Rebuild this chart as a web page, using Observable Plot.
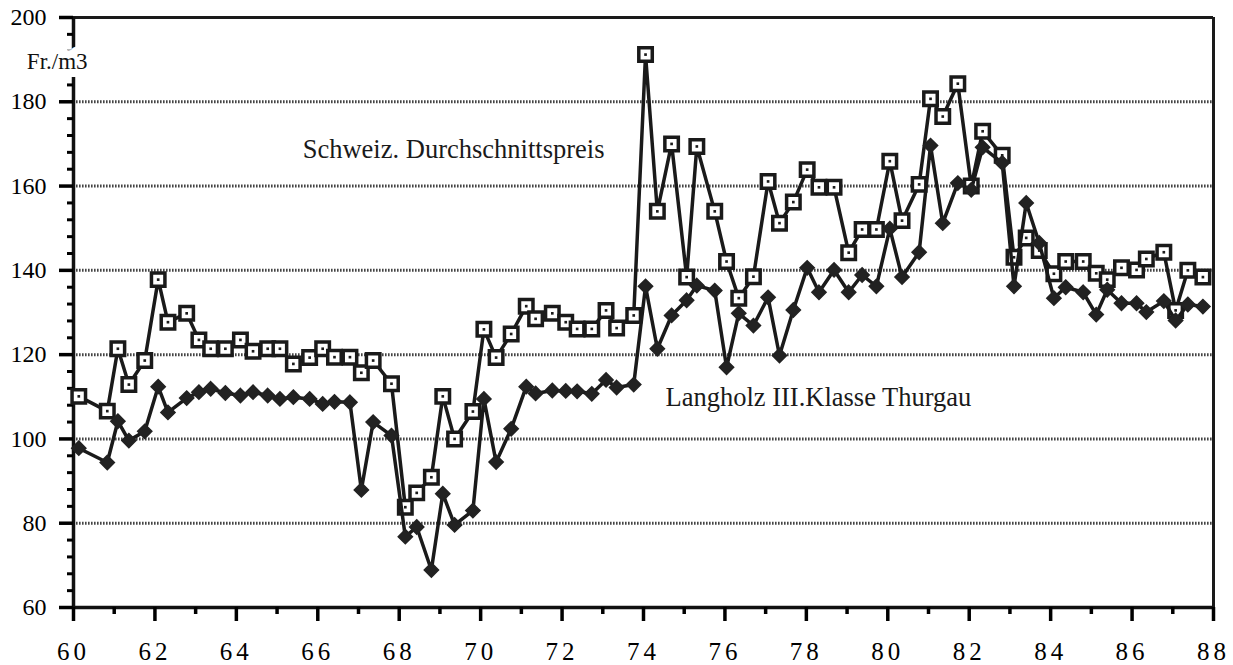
<!DOCTYPE html>
<html>
<head>
<meta charset="utf-8">
<script src="https://cdn.jsdelivr.net/npm/d3@7"></script>
<script src="https://cdn.jsdelivr.net/npm/@observablehq/plot@0.6"></script>
<style>
  html, body { margin: 0; padding: 0; background: white; }
  #chart { width: 1233px; height: 665px; }
</style>
</head>
<body>
<div id="chart"></div>
<script>
// Decimal year (19xx) of each observation
const periods = [
  60.13, 60.83, 61.09, 61.36, 61.75, 62.08, 62.32, 62.78, 63.08, 63.37,
  63.73, 64.10, 64.41, 64.77, 65.07, 65.40, 65.80, 66.12, 66.41, 66.79,
  67.07, 67.36, 67.81, 68.15, 68.43, 68.79, 69.07, 69.36, 69.81, 70.08,
  70.38, 70.75, 71.12, 71.35, 71.76, 72.09, 72.37, 72.73, 73.08, 73.34,
  73.76, 74.05, 74.34, 74.69, 75.06, 75.31, 75.75, 76.04, 76.34, 76.70,
  77.06, 77.34, 77.68, 78.02, 78.31, 78.68, 79.04, 79.37, 79.72, 80.05,
  80.35, 80.77, 81.05, 81.35, 81.72, 82.05, 82.33, 82.81, 83.10, 83.40,
  83.72, 84.08, 84.37, 84.80, 85.12, 85.39, 85.74, 86.11, 86.35, 86.78,
  87.07, 87.37, 87.74
];
// Schweiz. Durchschnittspreis (Fr./m3)
const schweiz = [
  110.1, 106.6, 121.4, 112.9, 118.6, 137.8, 127.7, 129.8, 123.5, 121.4,
  121.4, 123.5, 120.8, 121.4, 121.4, 117.8, 119.3, 121.4, 119.4, 119.4,
  115.7, 118.6, 113.1, 83.8, 87.2, 90.9, 110.1, 100.0, 106.5, 126.0,
  119.3, 124.9, 131.5, 128.5, 129.8, 127.7, 126.1, 126.1, 130.5, 126.3,
  129.3, 191.2, 154.0, 170.0, 138.4, 169.4, 154.0, 142.1, 133.4, 138.5,
  161.1, 151.2, 156.2, 163.9, 159.7, 159.7, 144.2, 149.7, 149.7, 165.9,
  151.8, 160.4, 180.7, 176.5, 184.3, 160.0, 173.0, 167.3, 143.1, 147.7,
  144.7, 139.2, 142.1, 142.1, 139.3, 137.8, 140.6, 140.1, 142.7, 144.3,
  130.5, 140.0, 138.4
];
// Langholz III.Klasse Thurgau (Fr./m3)
const thurgau = [
  97.8, 94.4, 104.2, 99.6, 101.8, 112.4, 106.3, 109.7, 111.1, 111.9,
  110.9, 110.3, 111.1, 110.3, 109.5, 109.9, 109.5, 108.3, 108.8, 108.7,
  87.9, 104.0, 100.8, 76.8, 79.1, 68.9, 87.0, 79.6, 83.0, 109.5,
  94.5, 102.4, 112.4, 110.8, 111.5, 111.4, 111.3, 110.7, 114.0, 112.2,
  112.9, 136.2, 121.4, 129.3, 132.9, 136.4, 135.2, 117.0, 129.8, 126.9,
  133.6, 119.8, 130.6, 140.6, 134.8, 140.1, 134.8, 138.9, 136.2, 149.9,
  138.4, 144.3, 169.6, 151.2, 160.7, 159.1, 169.2, 165.5, 136.2, 156.0,
  146.5, 133.4, 136.0, 134.8, 129.5, 135.4, 132.2, 132.2, 130.1, 132.7,
  128.1, 131.9, 131.4
];

const xMajorTicks = [60, 62, 64, 66, 68, 70, 72, 74, 76, 78, 80, 82, 84, 86, 88];
const xMinorTicks = [61, 63, 65, 67, 69, 71, 73, 75, 77, 79, 81, 83, 85, 87];
const yMajorTicks = [60, 80, 100, 120, 140, 160, 180, 200];
const yMinorTicks = [64, 68, 72, 76, 84, 88, 92, 96, 104, 108, 112, 116, 124, 128, 132, 136,
                     144, 148, 152, 156, 164, 168, 172, 176, 184, 188, 192, 196];
const gridValues = [80, 100, 120, 140, 160, 180];

const labels = [
  {text: "Schweiz. Durchschnittspreis", x: 65.63, y: 168.6},
  {text: "Langholz III.Klasse Thurgau", x: 74.54, y: 109.9}
];
const unitLabel = [{text: "Fr./m3", x: 59.6, y: 189.5}];

const sData = periods.map((p, i) => ({x: p, y: schweiz[i]}));
const tData = periods.map((p, i) => ({x: p, y: thurgau[i]}));

const font = "Liberation Serif";

const chart = Plot.plot({
  width: 1233,
  height: 665,
  marginLeft: 73,
  marginRight: 20,
  marginTop: 17,
  marginBottom: 58,
  style: {fontFamily: font, background: "white", color: "black"},
  x: {domain: [60, 88], label: null},
  y: {domain: [60, 200], label: null},
  marks: [
    Plot.ruleY(gridValues, {stroke: "#444", strokeWidth: 3, strokeDasharray: "1.6,1.4"}),
    Plot.ruleY([200], {stroke: "#1a1a1a", strokeWidth: 3}),
    Plot.ruleX([88], {stroke: "#1a1a1a", strokeWidth: 3}),
    Plot.ruleY([60], {stroke: "#111", strokeWidth: 3.5}),
    Plot.ruleX([60], {stroke: "#111", strokeWidth: 3.5}),
    // axes: ticks
    Plot.axisX({ticks: xMajorTicks, tickSize: 14, strokeWidth: 3.5, text: null, label: null}),
    Plot.axisX({ticks: xMinorTicks, tickSize: 7, strokeWidth: 3.5, text: null, label: null}),
    Plot.axisX({ticks: xMajorTicks, tickSize: 0, tickPadding: 35, fontSize: 25,
                tickFormat: d => String(d), label: null}),
    Plot.axisY({ticks: yMajorTicks, tickSize: 14, strokeWidth: 3.5, text: null, label: null}),
    Plot.axisY({ticks: yMinorTicks, tickSize: 6, strokeWidth: 3, text: null, label: null}),
    Plot.axisY({ticks: yMajorTicks, tickSize: 0, tickPadding: 27, fontSize: 24,
                tickFormat: d => String(d), label: null}),
    // unit label with white background hiding the axis
    Plot.text(unitLabel, {x: "x", y: "y", text: "text", fontSize: 23, fill: "#111",
                          stroke: "white", strokeWidth: 16, textAnchor: "middle"}),
    // Schweiz series
    Plot.line(sData, {x: "x", y: "y", stroke: "#1a1a1a", strokeWidth: 3.5}),
    Plot.dot(sData, {x: "x", y: "y", symbol: "square", r: 7.6, fill: "white", stroke: "#1a1a1a", strokeWidth: 3.5}),
    Plot.dot(sData, {x: "x", y: "y", symbol: "square", r: 1.5, fill: "#1a1a1a"}),
    // Thurgau series
    Plot.line(tData, {x: "x", y: "y", stroke: "#1a1a1a", strokeWidth: 3.5}),
    Plot.dot(tData, {x: "x", y: "y", symbol: "diamond2", r: 6.4, fill: "#222", stroke: "#222", strokeWidth: 1.5}),
    // series labels
    Plot.text(labels, {x: "x", y: "y", text: "text", fontSize: 26.5,
                       textAnchor: "start", fill: "#1a1a1a"})
  ]
});
// force the serif face on every text (axes included)
d3.select(chart).selectAll("text, g")
  .attr("font-family", font)
  .style("font-family", font)
  .style("font-variant", "normal");
// widen the year labels like the original
d3.select(chart).selectAll("g[aria-label='x-axis tick label'] text")
  .style("letter-spacing", "4px");
document.getElementById("chart").appendChild(chart);
</script>
</body>
</html>
